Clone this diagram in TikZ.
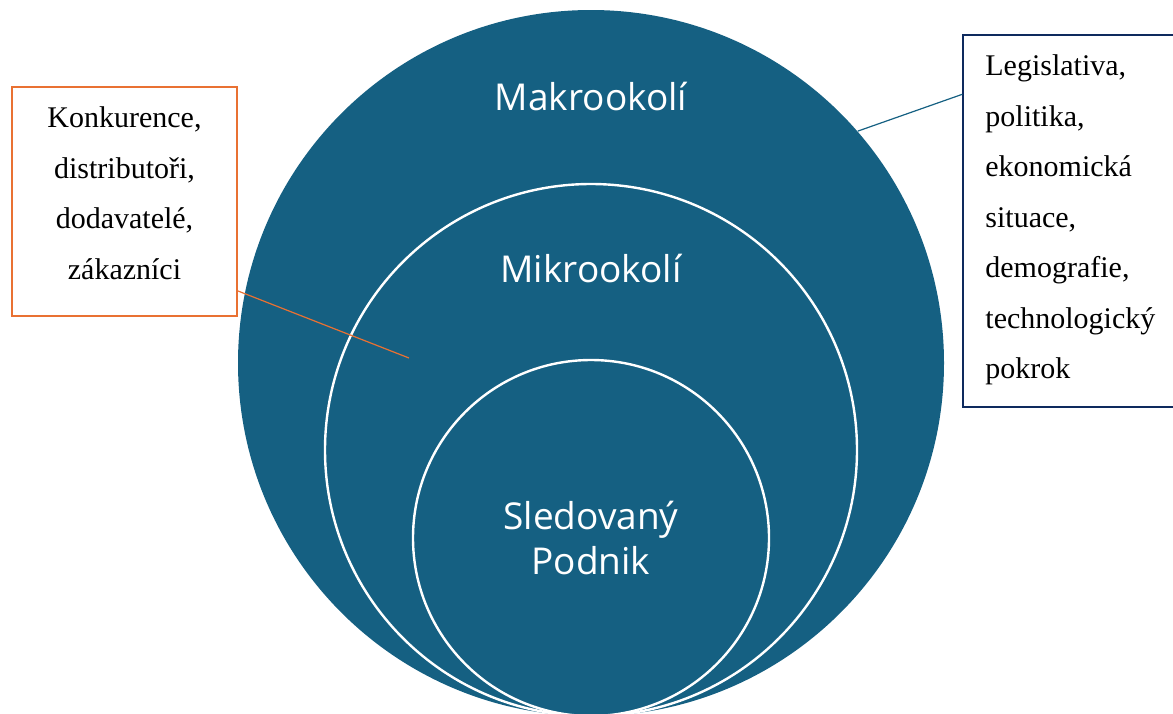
\documentclass[tikz,border=0pt]{standalone}
\usepackage{fontspec}
\setmainfont{Liberation Serif}
\newfontfamily\labelsans{Open Sans}

\definecolor{envblue}{HTML}{156082}
\definecolor{noteorange}{HTML}{E97132}
\definecolor{notenavy}{HTML}{0E2A5E}

\begin{document}
\begin{tikzpicture}[
  x=0.5pt, y=-0.5pt,
  ring/.style={circle, inner sep=0pt, fill=envblue},
  ringline/.style={draw=white, line width=1.2pt},
  sectorlabel/.style={text=white, inner sep=0pt, anchor=base,
    font={\labelsans\fontsize{18.5}{22.5}\selectfont}},
  notebox/.style={rectangle, inner sep=0pt, fill=white},
  notetext/.style={inner sep=0pt, font={\fontsize{15}{25.25}\selectfont}},
  leader/.style={line width=0.6pt}
]
\clip (0,0) rectangle (1173,713);

% nested environment circles
\node[ring, minimum size=353pt] (makro) at (591,363) {};
\node[ring, ringline, minimum size=266pt] (mikro) at (591,450) {};
\node[ring, ringline, minimum size=178pt, align=center, text=white,
      font={\labelsans\fontsize{18.5}{22.5}\selectfont}] (podnik) at (591,538)
      {Sledovaný\\Podnik};

\node[sectorlabel] (makrolabel) at (591,110) {Makrookolí};
\node[sectorlabel] (mikrolabel) at (591,282) {Mikrookolí};

% micro-environment note
\node[notebox, draw=noteorange, line width=1pt,
      minimum width=112.5pt, minimum height=114.5pt] (mikrobox) at (124.5,201.5) {};
\node[notetext, align=center, anchor=north] (mikrotext) at (124.5,106.5)
  {Konkurence,\\distributoři,\\dodavatelé,\\zákazníci};

% macro-environment note
\node[notebox, draw=notenavy, line width=0.7pt,
      minimum width=111pt, minimum height=186pt] (makrobox) at (1074,221) {};
\node[notetext, align=left, anchor=north west] (makrotext) at (985,54.5)
  {Legislativa,\\politika,\\ekonomická\\situace,\\demografie,\\technologický\\pokrok};

% leader lines
\coordinate (mikropoint) at (409,358);
\draw[leader, noteorange] ([yshift=13pt]mikrobox.south east) -- (mikropoint);
\draw[leader, envblue] (makro.41.3) -- ([yshift=-30pt]makrobox.north west);
\end{tikzpicture}
\end{document}
